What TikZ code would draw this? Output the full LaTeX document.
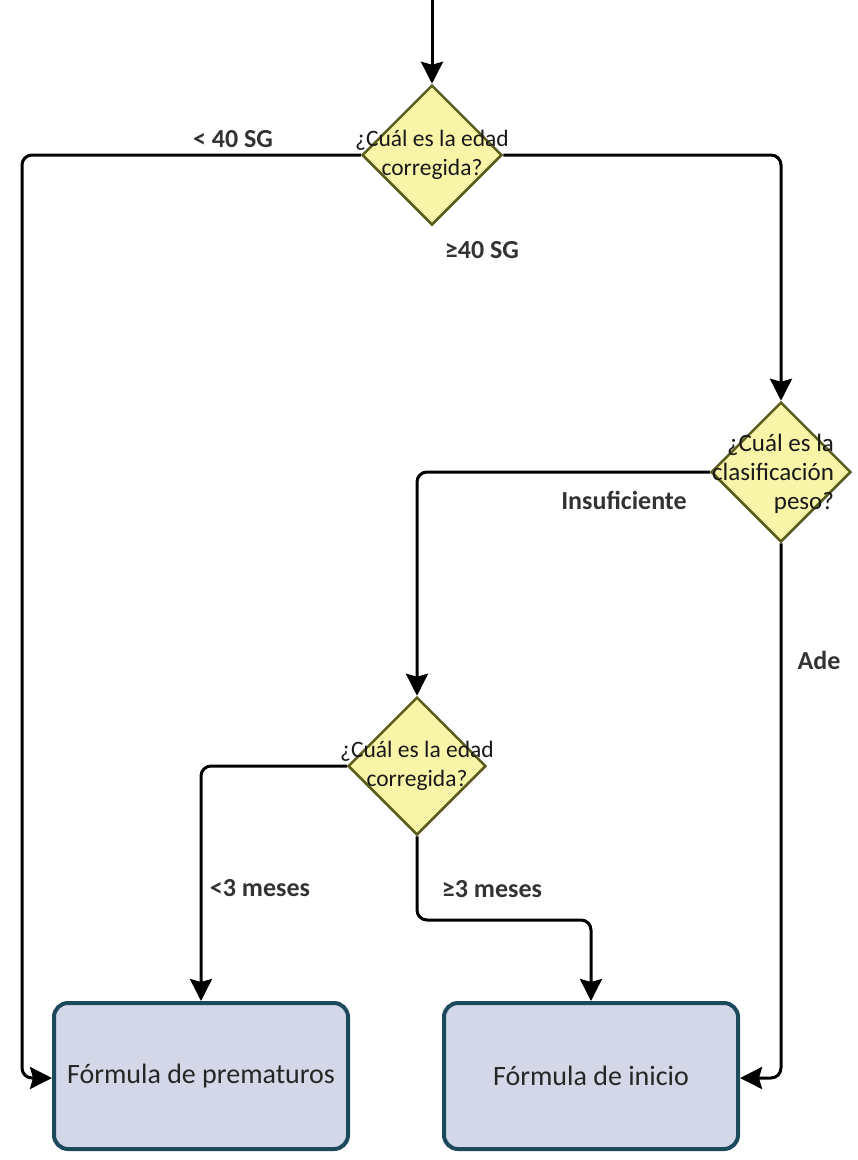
\documentclass[tikz,border=0pt]{standalone}
\usepackage{fontspec}
\setmainfont{Carlito}
\usetikzlibrary{shapes.geometric,arrows.meta}
\definecolor{dfill}{HTML}{F9F5A8}
\definecolor{ddraw}{HTML}{5C5C1E}
\definecolor{bfill}{HTML}{D3D7E8}
\definecolor{bdraw}{HTML}{1C4A5C}
\begin{document}
\begin{tikzpicture}[x=1pt,y=-1pt,
  decision/.style={diamond,draw=ddraw,fill=dfill,line width=2.5pt,minimum width=140pt,minimum height=140pt,inner sep=0pt},
  dtext/.style={font=\fontsize{23.5}{29}\selectfont,align=center,text=black!90},
  outbox/.style={rectangle,rounded corners=14pt,draw=bdraw,fill=bfill,line width=4pt,minimum width=294pt,minimum height=146pt,font=\fontsize{28}{32}\selectfont,text=black!85},
  conn/.style={draw=black,line width=3pt,rounded corners=10pt,-{Stealth[length=22pt,width=22pt,inset=3pt]}},
  lbl/.style={font=\bfseries\fontsize{26}{30}\selectfont,text=black!80}]
\useasboundingbox (0,0) rectangle (858,1160);
\fill[white] (0,0) rectangle (858,1160);

\node[decision,label={[dtext]center:{¿Cuál es la edad\\corregida?}}] (d1) at (432,155) {};
\node[decision,label={[dtext,align=right,font=\fontsize{25}{29}\selectfont,xshift=-8pt,yshift=-2pt]center:{¿Cuál es la\\clasificación\\peso?}}] (d2) at (781,472) {};
\node[decision,minimum width=138pt,minimum height=138pt,label={[dtext]center:{¿Cuál es la edad\\corregida?}}] (d3) at (417,766) {};

\node[outbox] (b1) at (201,1076) {Fórmula de prematuros};
\node[outbox] (b2) at (591,1076) {Fórmula de inicio};

\coordinate (start) at (432,0);
\draw[conn] (start) -- (d1.north);
\draw[conn] (d1.west) -- (22,155) -- (22,1078) -- (b1.west |- 0,1078);
\draw[conn] (d1.east) -- (781,155) -- (d2.north);
\draw[conn] (d2.west) -- (417,472) -- (d3.north);
\draw[conn] (d3.west) -- (201,766) -- (b1.north);
\draw[conn] (d3.south) -- (417,920) -- (591,920) -- (b2.north);
\draw[conn] (d2.south) -- (781,1078) -- (b2.east |- 0,1078);

\node[lbl] (l1) at (233,139) {< 40 SG};
\node[lbl] (l2) at (482,250) {≥40 SG};
\node[lbl] (l3) at (624,500) {Insuficiente};
\node[lbl] (l4) at (819,660) {Ade};
\node[lbl] (l5) at (260,888) {<3 meses};
\node[lbl] (l6) at (492,889) {≥3 meses};
\end{tikzpicture}
\end{document}
